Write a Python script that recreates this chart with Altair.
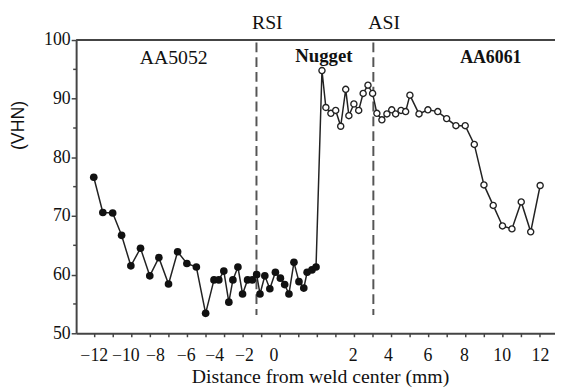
import altair as alt
import pandas as pd

# ---- data (x in axis tick units, hardness in VHN) ----
x_5052 = [-12.05, -11.56, -11.03, -10.55, -10.05, -9.53, -9.03, -8.54, -8.02, -7.53,
          -7.03, -6.52, -6.02, -5.57, -5.31, -5.04, -4.77, -4.55, -4.28, -4.03,
          -3.76, -3.50, -3.27, -3.09, -2.83, -2.56, -2.26, -1.99, -1.76, -1.53,
          -1.26, -0.99, -0.73, -0.55, -0.29, -0.07]
hv_5052 = [76.6, 70.6, 70.5, 66.7, 61.5, 64.5, 59.8, 62.9, 58.4, 63.9,
           61.9, 61.3, 53.4, 59.1, 59.1, 60.6, 55.3, 59.1, 61.3, 56.7,
           59.1, 59.1, 60.0, 56.7, 59.8, 57.6, 60.4, 59.4, 58.3, 56.7,
           62.1, 58.8, 57.7, 60.4, 60.8, 61.3]
x_6061 = [0.25, 0.46, 0.73, 0.99, 1.26, 1.53, 1.70, 1.97, 2.23, 2.47,
          2.73, 2.98, 3.21, 3.48, 3.75, 4.01, 4.22, 4.51, 4.76, 4.99,
          5.48, 5.96, 6.49, 6.97, 7.47, 7.97, 8.46, 8.98, 9.48, 9.98,
          10.49, 10.99, 11.50, 12.01]
hv_6061 = [94.8, 88.5, 87.5, 88.0, 85.3, 91.6, 87.1, 89.1, 88.0, 90.9,
           92.3, 90.9, 87.5, 86.4, 87.4, 88.1, 87.4, 88.0, 87.8, 90.6,
           87.4, 88.1, 87.8, 86.6, 85.4, 85.4, 82.2, 75.3, 71.8, 68.3,
           67.8, 72.4, 67.3, 75.2]

tick_units = list(range(-12, 13))
label_pos = [-12.05, -10.35, -8.75, -7.1, -5.56, -3.96, -2.36, 1.9, 3.81, 5.94, 7.9, 9.94, 12.0]
label_text = ["\u221212", "\u221210", "\u22128", "\u22126", "\u22124", "\u22122", "0",
              "2", "4", "6", "8", "10", "12"]
y_major = [50, 60, 70, 80, 90, 100]
y_minor = [55, 65, 75, 85, 95]
interfaces = ["RSI", "ASI"]
interface_x = [-3.28, 3.02]
zones = ["AA5052", "Nugget", "AA6061"]
zone_x = [-7.74, 0.35, 9.35]

W, H = 485, 297
SERIF = "Liberation Serif"
INK = "#111111"
AXC = "#444444"

df1 = pd.DataFrame({"x": x_5052, "hv": hv_5052})
df2 = pd.DataFrame({"x": x_6061, "hv": hv_6061})
df_all = pd.concat([df1, df2], ignore_index=True)
df_all["order"] = range(len(df_all))

xscale = alt.Scale(domain=[-13, 12.81], nice=False, zero=False)
yscale = alt.Scale(domain=[50, 100], nice=False, zero=False)

label_expr = "[{}][indexof([{}], datum.value)]".format(
    ",".join("'" + t + "'" for t in label_text),
    ",".join(repr(p) for p in label_pos))

xaxis = alt.Axis(values=label_pos, labelExpr=label_expr, ticks=False, grid=False,
                 domainColor=AXC, domainWidth=2, labelFont=SERIF, labelFontSize=18,
                 labelColor=INK, labelPadding=28, labelBaseline="alphabetic",
                 labelOverlap=False, labelFlush=False, labelBound=False,
                 title="Distance from weld center (mm)", titleFont=SERIF,
                 titleFontSize=20, titleFontWeight="normal", titleColor=INK,
                 titleX=247, titleY=50, titleBaseline="alphabetic", titleAlign="center")
yaxis = alt.Axis(values=y_major, tickSize=5, tickColor=AXC, tickWidth=1.5, grid=False,
                 domainColor=AXC, domainWidth=2, labelFont=SERIF, labelFontSize=18,
                 labelColor=INK, labelPadding=1, labelOverlap=False, labelFlush=False,
                 title="(VHN)", titleFont="Liberation Sans", titleFontSize=18,
                 titleFontWeight="normal", titleColor=INK, titleX=-58, titleY=86,
                 titleAngle=270, titleBaseline="middle", titleAlign="center")

base_x = alt.X("x:Q", scale=xscale, axis=xaxis)
base_y = alt.Y("hv:Q", scale=yscale, axis=yaxis)

line = alt.Chart(df_all).mark_line(color="#222222", strokeWidth=1.5).encode(
    x=base_x, y=base_y, order="order:Q")

filled = alt.Chart(df1).mark_point(filled=True, shape="circle", size=60, color=INK,
                                   opacity=1).encode(
    x=alt.X("x:Q", scale=xscale), y=alt.Y("hv:Q", scale=yscale))

hollow = alt.Chart(df2).mark_point(filled=False, shape="circle", size=38, fill="white",
                                   stroke="#222222", strokeWidth=1.4, opacity=1).encode(
    x=alt.X("x:Q", scale=xscale), y=alt.Y("hv:Q", scale=yscale))

df_if = pd.DataFrame({"name": interfaces, "x": interface_x})
dashes = alt.Chart(df_if).mark_rule(color="#555555", strokeWidth=2,
                                    strokeDash=[10, 5]).encode(
    x=alt.X("x:Q", scale=xscale), y=alt.datum(99.6), y2=alt.datum(53.1))

if_text = alt.Chart(df_if).mark_text(font=SERIF, fontSize=20, color=INK,
                                     baseline="alphabetic", dx=11).encode(
    x=alt.X("x:Q", scale=xscale), y=alt.value(-11), text="name:N")

df_zone = pd.DataFrame({"name": zones, "x": zone_x})
zone_a = alt.Chart(df_zone.iloc[[0]]).mark_text(font=SERIF, fontSize=20, color=INK,
                                                baseline="alphabetic").encode(
    x=alt.X("x:Q", scale=xscale), y=alt.value(24.5), text="name:N")
zone_n = alt.Chart(df_zone.iloc[[1]]).mark_text(font=SERIF, fontSize=19, color=INK,
                                                fontWeight="bold",
                                                baseline="alphabetic").encode(
    x=alt.X("x:Q", scale=xscale), y=alt.value(22.5), text="name:N")
zone_b = alt.Chart(df_zone.iloc[[2]]).mark_text(font=SERIF, fontSize=18, color=INK,
                                                fontWeight="bold",
                                                baseline="alphabetic").encode(
    x=alt.X("x:Q", scale=xscale), y=alt.value(23), text="name:N")

xticks = alt.Chart(pd.DataFrame({"t": tick_units})).mark_rule(
    color=AXC, strokeWidth=1.5).encode(
    x=alt.X("t:Q", scale=xscale), y=alt.value(H), y2=alt.value(H + 4))

yminor = alt.Chart(pd.DataFrame({"m": y_minor})).mark_rule(
    color=AXC, strokeWidth=1.5).encode(
    y=alt.Y("m:Q", scale=yscale), x=alt.value(-3), x2=alt.value(0))

topline = alt.Chart(alt.Data(values=[{}])).mark_rule(color=AXC, strokeWidth=2).encode(
    x=alt.value(0), x2=alt.value(W), y=alt.value(0))

chart = alt.layer(
    dashes, line, filled, hollow, xticks, yminor, topline, if_text, zone_a, zone_n, zone_b
).properties(
    width=W, height=H,
    autosize=alt.AutoSizeParams(type="none"),
    padding={"left": 69, "top": 30, "right": 0, "bottom": 55},
    background="white",
).configure_view(stroke=None)

chart.save("out.html", embed_options={"renderer": "svg", "actions": False})
